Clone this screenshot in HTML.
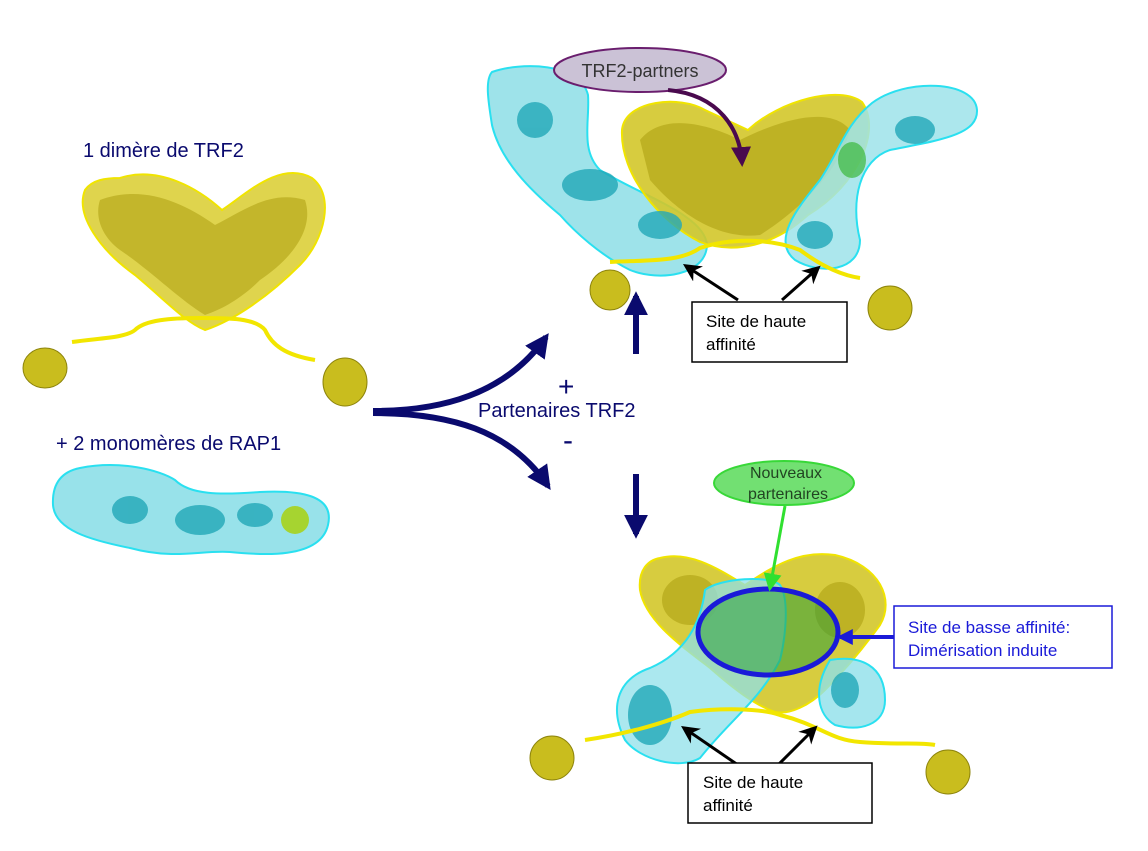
<!DOCTYPE html>
<html><head><meta charset="utf-8"><style>
html,body{margin:0;padding:0;background:#fff;}
svg{display:block;}
text{font-family:"Liberation Sans",sans-serif;}
</style></head><body>
<svg width="1148" height="851" viewBox="0 0 1148 851" xmlns="http://www.w3.org/2000/svg">
<defs>
<marker id="ah" viewBox="0 0 10 10" refX="8" refY="5" markerWidth="4" markerHeight="4" orient="auto"><path d="M0,0 L10,5 L0,10 Z" fill="#0a0a6e"/></marker>
<marker id="ak" viewBox="0 0 10 10" refX="8" refY="5" markerWidth="6" markerHeight="6" orient="auto"><path d="M0,0 L10,5 L0,10 L3,5 Z" fill="#000"/></marker>
<marker id="ap" viewBox="0 0 10 10" refX="8" refY="5" markerWidth="5" markerHeight="5" orient="auto"><path d="M0,0 L10,5 L0,10 Z" fill="#4a0a4e"/></marker>
<marker id="ag" viewBox="0 0 10 10" refX="8" refY="5" markerWidth="6" markerHeight="6" orient="auto"><path d="M0,0 L10,5 L0,10 Z" fill="#30e030"/></marker>
<marker id="ab" viewBox="0 0 10 10" refX="8" refY="5" markerWidth="4" markerHeight="4" orient="auto"><path d="M0,0 L10,5 L0,10 Z" fill="#1a1ad8"/></marker>
</defs>

<!-- LEFT -->
<text x="83" y="157" font-size="20" fill="#0a0a6e">1 dimère de TRF2</text>
<path d="M120,178 C160,165 200,190 222,210 C245,195 280,160 312,178 C335,195 325,240 300,265 C270,295 235,320 205,330 C185,322 165,300 135,275 C100,250 75,215 85,190 C92,180 105,178 120,178 Z" fill="#d9cd2e" fill-opacity="0.85" stroke="#f0e400" stroke-width="2"/>
<path d="M100,200 C140,185 180,200 215,225 C245,210 270,190 305,200 C315,230 290,260 260,280 C240,300 220,310 205,315 C180,300 150,270 120,250 C100,235 95,215 100,200Z" fill="#b7aa1c" opacity="0.7"/>
<path d="M72,342 C100,338 125,338 135,330 C145,320 170,318 200,318 C230,318 255,318 265,330 C272,345 285,355 315,360" fill="none" stroke="#f2e600" stroke-width="4"/>
<g fill="#c9bd1e" stroke="#8d840c" stroke-width="1">
<ellipse cx="45" cy="368" rx="22" ry="20"/><ellipse cx="345" cy="382" rx="22" ry="24"/>
<ellipse cx="610" cy="290" rx="20" ry="20"/><ellipse cx="890" cy="308" rx="22" ry="22"/>
<ellipse cx="552" cy="758" rx="22" ry="22"/><ellipse cx="948" cy="772" rx="22" ry="22"/>
</g>
<text x="56" y="450" font-size="20" fill="#0a0a6e">+ 2 monomères de RAP1</text>
<path d="M80,468 C120,460 160,470 175,480 C190,495 220,495 260,492 C300,490 335,495 328,525 C320,560 260,555 230,552 C200,550 175,560 130,548 C90,540 55,530 53,505 C52,485 60,472 80,468 Z" fill="#98e2ea" stroke="#2ae0f0" stroke-width="2"/>
<g fill="#22a8b8" opacity="0.8"><ellipse cx="130" cy="510" rx="18" ry="14"/><ellipse cx="200" cy="520" rx="25" ry="15"/><ellipse cx="255" cy="515" rx="18" ry="12"/></g>
<ellipse cx="295" cy="520" rx="14" ry="14" fill="#a6d430"/>

<!-- central arrows -->
<path d="M373,411 C440,411 505,395 546,337" fill="none" stroke="#0a0a6e" stroke-width="6" marker-end="url(#ah)"/>
<path d="M373,413 C450,413 510,430 548,486" fill="none" stroke="#0a0a6e" stroke-width="6" marker-end="url(#ah)"/>
<text x="558" y="396" font-size="28" fill="#0a0a6e">+</text>
<text x="478" y="417" font-size="20" fill="#0a0a6e">Partenaires TRF2</text>
<text x="563" y="450" font-size="30" fill="#0a0a6e">-</text>
<path d="M636,354 L636,296" stroke="#0a0a6e" stroke-width="6" marker-end="url(#ah)"/>
<path d="M636,474 L636,534" stroke="#0a0a6e" stroke-width="6" marker-end="url(#ah)"/>

<!-- TOP RIGHT -->
<path d="M492,72 C520,62 580,62 588,95 C590,120 580,150 600,170 C640,195 705,215 707,245 C706,275 660,282 630,270 C600,255 575,232 560,215 C530,190 500,160 492,125 C488,100 485,80 492,72 Z" fill="#9ee3ea" stroke="#2ae0f0" stroke-width="2"/>
<path d="M622,130 C625,100 680,95 705,110 L748,130 C780,100 840,85 862,102 C882,130 858,185 808,215 C775,245 735,255 700,242 C660,222 620,175 622,130 Z" fill="#d3c72a" fill-opacity="0.9" stroke="#f0e400" stroke-width="2"/>
<path d="M640,140 C660,115 700,120 740,140 C780,120 830,105 850,130 C840,170 800,210 760,235 C720,240 680,215 650,180Z" fill="#b3a61a" opacity="0.7"/>
<path d="M872,103 C905,78 975,80 977,110 C978,135 940,140 890,150 C860,160 850,200 860,240 C860,272 820,275 795,260 C770,240 800,205 820,180 C840,150 845,125 872,103 Z" fill="#9ee3ea" fill-opacity="0.85" stroke="#2ae0f0" stroke-width="2"/>
<g fill="#22a8b8" opacity="0.8"><ellipse cx="535" cy="120" rx="18" ry="18"/><ellipse cx="590" cy="185" rx="28" ry="16"/><ellipse cx="660" cy="225" rx="22" ry="14"/><ellipse cx="915" cy="130" rx="20" ry="14"/><ellipse cx="815" cy="235" rx="18" ry="14"/></g>
<ellipse cx="852" cy="160" rx="14" ry="18" fill="#3cb83c" opacity="0.7"/>
<path d="M610,262 C650,260 680,262 700,248 C730,238 770,238 800,250 C820,265 840,275 860,278" fill="none" stroke="#f2e600" stroke-width="4"/>
<ellipse cx="640" cy="70" rx="86" ry="22" fill="#cbc2d6" stroke="#6a1e6e" stroke-width="2"/>
<text x="640" y="77" font-size="18" fill="#333" text-anchor="middle">TRF2-partners</text>
<path d="M668,90 C720,95 740,130 742,163" fill="none" stroke="#4a0a4e" stroke-width="4" marker-end="url(#ap)"/>
<path d="M738,300 L686,266" stroke="#000" stroke-width="3" marker-end="url(#ak)"/>
<path d="M782,300 L818,268" stroke="#000" stroke-width="3" marker-end="url(#ak)"/>
<rect x="692" y="302" width="155" height="60" fill="#fff" stroke="#000" stroke-width="1.5"/>
<text x="706" y="327" font-size="17" fill="#000">Site de haute</text>
<text x="706" y="350" font-size="17" fill="#000">affinité</text>

<!-- BOTTOM RIGHT -->
<path d="M660,558 C690,550 720,570 745,585 C775,565 800,550 835,555 C880,565 895,600 880,625 C862,650 845,670 825,690 C810,705 790,715 775,712 C755,705 735,690 710,668 C680,645 645,620 640,590 C638,570 648,560 660,558 Z" fill="#d3c72a" fill-opacity="0.9" stroke="#f0e400" stroke-width="2"/>
<g fill="#b3a61a" opacity="0.7"><ellipse cx="690" cy="600" rx="28" ry="25"/><ellipse cx="840" cy="610" rx="25" ry="28"/></g>
<path d="M705,590 C720,578 770,575 780,585 C790,600 785,640 780,660 C760,700 730,720 700,758 C680,770 640,760 625,740 C610,710 615,680 650,668 C680,655 700,630 705,590 Z" fill="#8fe0ea" fill-opacity="0.75" stroke="#2ae0f0" stroke-width="2"/>
<path d="M830,660 C860,655 885,665 885,700 C885,725 860,732 835,725 C818,715 812,690 830,660Z" fill="#8fe0ea" fill-opacity="0.8" stroke="#2ae0f0" stroke-width="2"/>
<g fill="#22a8b8" opacity="0.8"><ellipse cx="650" cy="715" rx="22" ry="30"/><ellipse cx="845" cy="690" rx="14" ry="18"/></g>
<ellipse cx="768" cy="632" rx="70" ry="44" fill="#2e9e3a" fill-opacity="0.55"/>
<ellipse cx="768" cy="632" rx="70" ry="43" fill="none" stroke="#1a1ad8" stroke-width="5"/>
<path d="M585,740 C620,735 660,725 690,712 C720,708 760,708 780,715 C820,725 830,740 860,742 C900,745 920,742 935,745" fill="none" stroke="#f2e600" stroke-width="4"/>
<ellipse cx="784" cy="483" rx="70" ry="22" fill="#72e072" stroke="#38d838" stroke-width="2"/>
<text x="786" y="478" font-size="16" fill="#224422" text-anchor="middle">Nouveaux</text>
<text x="788" y="499" font-size="16" fill="#224422" text-anchor="middle">partenaires</text>
<path d="M785,506 L770,588" stroke="#30e030" stroke-width="3" marker-end="url(#ag)"/>
<path d="M894,637 L840,637" stroke="#1a1ad8" stroke-width="4" marker-end="url(#ab)"/>
<rect x="894" y="606" width="218" height="62" fill="#fff" stroke="#1a1ad8" stroke-width="1.5"/>
<text x="908" y="633" font-size="17" fill="#1a1ad8">Site de basse affinité:</text>
<text x="908" y="656" font-size="17" fill="#1a1ad8">Dimérisation induite</text>
<path d="M738,765 L684,728" stroke="#000" stroke-width="3" marker-end="url(#ak)"/>
<path d="M778,765 L815,728" stroke="#000" stroke-width="3" marker-end="url(#ak)"/>
<rect x="688" y="763" width="184" height="60" fill="#fff" stroke="#000" stroke-width="1.5"/>
<text x="703" y="788" font-size="17" fill="#000">Site de haute</text>
<text x="703" y="811" font-size="17" fill="#000">affinité</text>
</svg>
</body></html>
